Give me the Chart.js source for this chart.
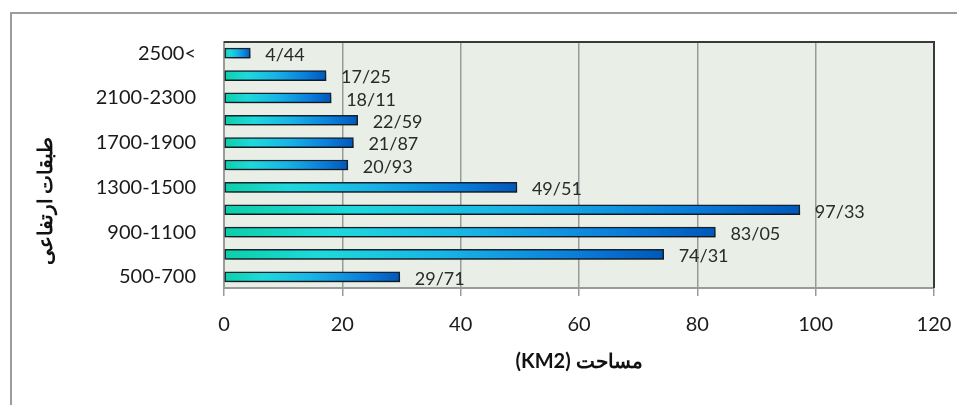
<!DOCTYPE html>
<html>
<head>
<meta charset="utf-8">
<script src="https://cdn.jsdelivr.net/npm/chart.js@4"></script>
<style>
html,body{margin:0;padding:0;background:#fff;}
#wrap{position:relative;width:957px;height:405px;}
#frame{position:absolute;left:10px;top:12px;right:0;bottom:0;border-top:2px solid #9c9c9c;border-left:2px solid #9c9c9c;}
canvas{position:absolute;left:0;top:0;}
</style>
</head>
<body>
<div id="wrap">
<div id="frame"></div>
<canvas id="chart" width="957" height="405"></canvas>
</div>
<script>
// elevation classes, top to bottom
const categories = ["2500<","2300-2500","2100-2300","1900-2100","1700-1900","1500-1700","1300-1500","1100-1300","900-1100","700-900","500-700"];
const areaValues = [4.44,17.25,18.11,22.59,21.87,20.93,49.51,97.33,83.05,74.31,29.71];
const xTicks = [0,20,40,60,80,100,120];
const yTitle = "طبقات ارتفاعی";
const xTitle = "مساحت (KM2)";

const FONT = "Lato, 'Open Sans', sans-serif";

// format like the source: 4/44
function fmt(v){ return v.toFixed(2).replace(".","/"); }

function barFill(c){
    const chart=c.chart;
    if(!chart.chartArea) return "#1a8fe0";
    const x=chart.scales.x;
    const x0=x.getPixelForValue(0), x1=x.getPixelForValue(c.raw);
    const g=chart.ctx.createLinearGradient(x0,0,x1,0);
    g.addColorStop(0,"#0ccfa8");
    g.addColorStop(0.22,"#1ed9dc");
    g.addColorStop(0.5,"#18b4e6");
    g.addColorStop(0.8,"#0a7edb");
    g.addColorStop(1,"#0058bc");
    return g;
}

const areaPlugin = {
    id:"areaPlugin",
    beforeDraw(chart){
        const {ctx,chartArea:a}=chart;
        ctx.save();
        ctx.fillStyle="#e9eee7";
        ctx.fillRect(a.left,a.top,a.right-a.left,a.bottom-a.top);
        ctx.restore();
    },
    beforeDatasetsDraw(chart){
        const ctx=chart.ctx;
        ctx.save();
        ctx.shadowColor="rgba(0,0,0,0.4)";
        ctx.shadowBlur=6;
        ctx.shadowOffsetX=4;
        ctx.shadowOffsetY=5;
    },
    afterDatasetsDraw(chart){
        const ctx=chart.ctx;
        ctx.restore();
        const a=chart.chartArea;
        // dark top and right frame
        ctx.save();
        ctx.strokeStyle="#3a3a3a";
        ctx.lineWidth=2;
        ctx.beginPath();
        ctx.moveTo(a.left,a.top);
        ctx.lineTo(a.right,a.top);
        ctx.lineTo(a.right,a.bottom);
        ctx.stroke();
        // value labels
        const meta=chart.getDatasetMeta(0);
        ctx.fillStyle="#2a2a2a";
        ctx.font="18px "+FONT;
        ctx.textBaseline="middle";
        ctx.textAlign="left";
        meta.data.forEach((bar,i)=>{
            ctx.fillText(fmt(areaValues[i]),bar.x+15,bar.y+2);
        });
        // x axis title (right-to-left)
        ctx.save();
        ctx.direction="rtl";
        ctx.font="bold 20px "+FONT;
        ctx.fillStyle="#111";
        ctx.textAlign="center";
        ctx.fillText(xTitle,(a.left+a.right)/2,362);
        ctx.restore();
        // y axis title
        ctx.font="bold 20px "+FONT;
        ctx.fillStyle="#111";
        ctx.textAlign="center";
        ctx.translate(46,201);
        ctx.rotate(-Math.PI/2);
        ctx.fillText(yTitle,0,0);
        ctx.restore();
    }
};

new Chart(document.getElementById("chart"),{
    type:"bar",
    data:{
        labels:categories,
        datasets:[{
            data:areaValues,
            backgroundColor:barFill,
            borderColor:"#16242e",
            borderWidth:1.5,
            borderSkipped:false,
            barThickness:10
        }]
    },
    options:{
        indexAxis:"y",
        responsive:false,
        animation:false,
        layout:{padding:{top:42,right:23,bottom:26,left:0}},
        plugins:{legend:{display:false},tooltip:{enabled:false}},
        scales:{
            x:{
                min:0,max:120,
                afterBuildTicks(s){ s.ticks=xTicks.map(v=>({value:v})); },
                grid:{color:"#9a9a9a",lineWidth:1.5,tickLength:8,drawOnChartArea:true},
                border:{color:"#9a9a9a",width:2},
                ticks:{font:{family:FONT,size:20},color:"#1a1a1a",padding:17},
                afterFit(s){ s.height=405-288-26; s.paddingRight=0; s.paddingLeft=0; }
            },
            y:{
                grid:{display:false},
                border:{color:"#9a9a9a",width:2},
                ticks:{
                    autoSkip:false,
                    font:{family:FONT,size:20},color:"#1a1a1a",padding:20,
                    callback(v,i){ return i%2===0?categories[i]:""; }
                },
                afterFit(s){ s.width=224; }
            }
        }
    },
    plugins:[areaPlugin]
});
</script>
</body>
</html>
